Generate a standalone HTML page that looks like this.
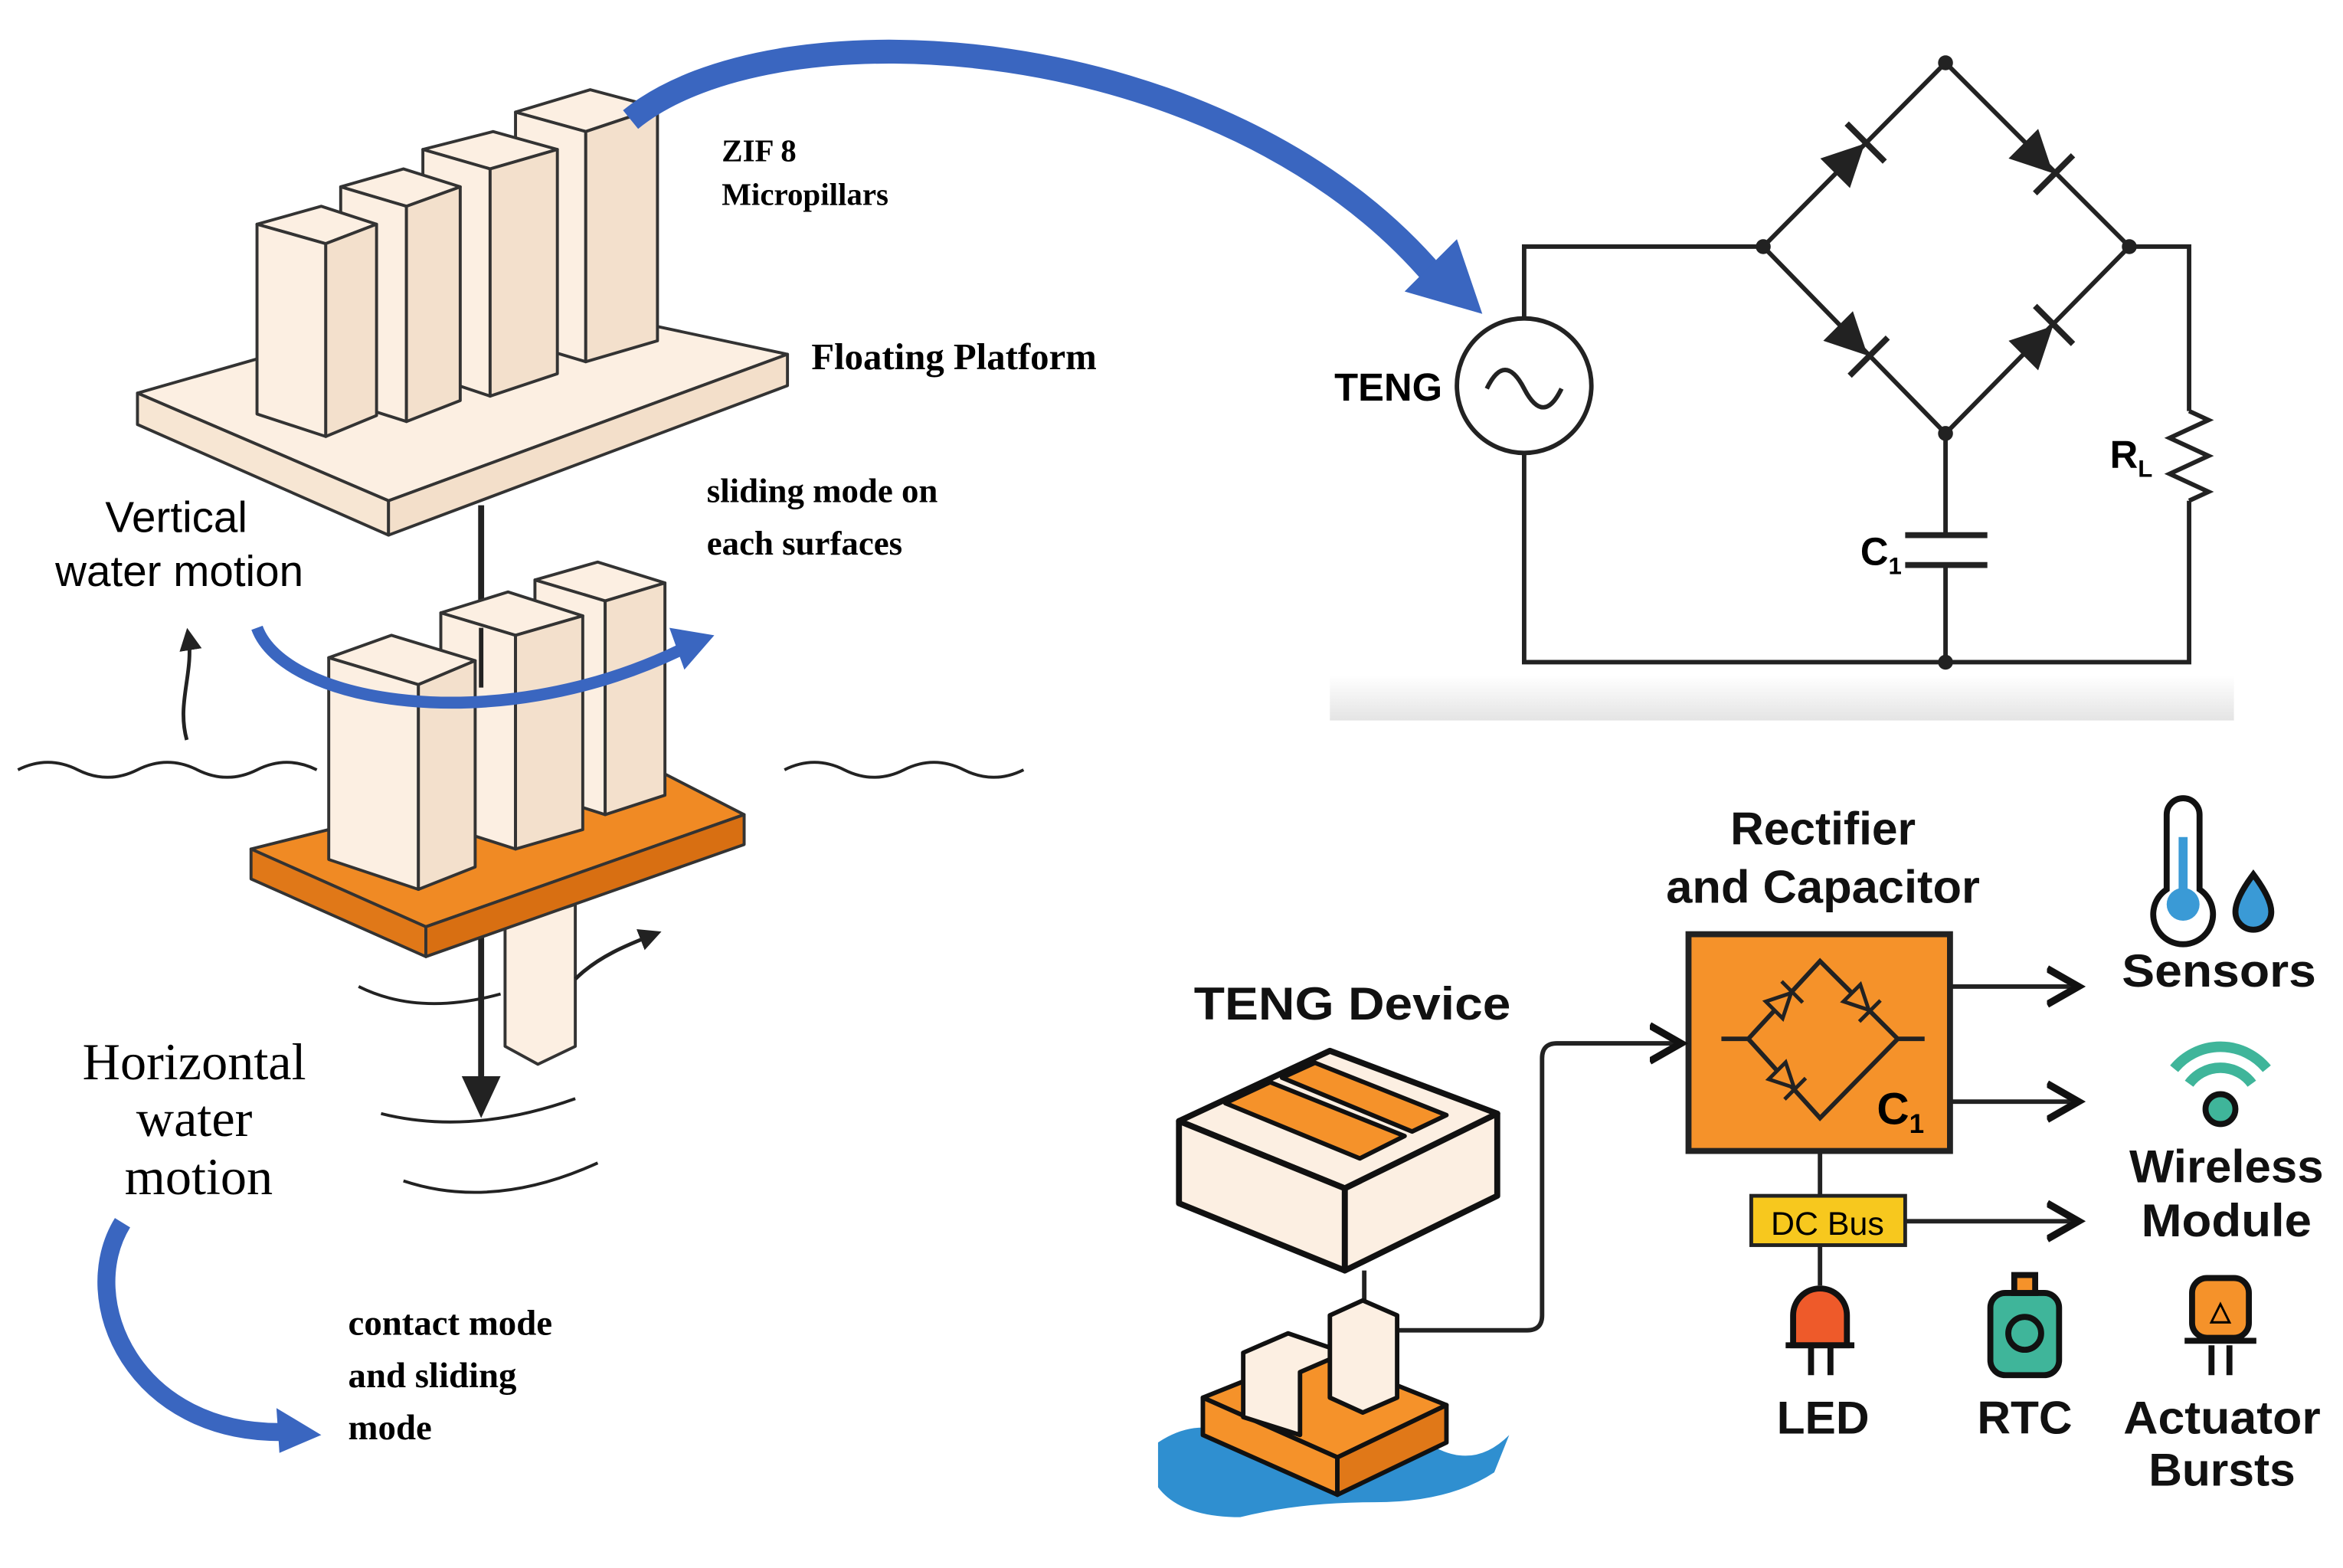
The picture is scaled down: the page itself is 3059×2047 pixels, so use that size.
<!DOCTYPE html>
<html><head><meta charset="utf-8"><style>
html,body{margin:0;padding:0;background:#fff}
svg{display:block}
.serif{font-family:"Liberation Serif",serif;font-weight:bold}
.sans{font-family:"Liberation Sans",sans-serif}
</style></head><body>
<svg width="3059" height="2047" viewBox="0 0 1568 1049" preserveAspectRatio="none" xmlns="http://www.w3.org/2000/svg">
<defs>
<linearGradient id="gr" x1="0" y1="0" x2="0" y2="1"><stop offset="0" stop-color="#fff"/><stop offset="1" stop-color="#e4e4e4"/></linearGradient>
<marker id="ah" markerWidth="10" markerHeight="10" refX="6" refY="5" orient="auto" markerUnits="strokeWidth"><path d="M0,1 L7,5 L0,9" fill="none" stroke="#111" stroke-width="1.6"/></marker>
<marker id="af" markerWidth="6" markerHeight="6" refX="4" refY="3" orient="auto"><path d="M0,0 L6,3 L0,6Z" fill="#222"/></marker>
</defs>
<rect width="1568" height="1049" fill="#fff"/>

<g stroke="#333" stroke-width="2" stroke-linejoin="round">
<polygon points="92,263 330,195 527,237 260,335" fill="#fcefe2"/>
<polygon points="92,263 260,335 260,358 92,284" fill="#f7e6d3"/>
<polygon points="260,335 527,237 527,258 260,358" fill="#f3dfca"/>
<g fill="#fcefe2">
<polygon points="345,75 395,60 440,72 392,88"/><polygon points="345,75 392,88 392,242 345,228"/><polygon points="392,88 440,72 440,228 392,242" fill="#f3e0cc"/>
<polygon points="283,100 330,88 373,100 328,113"/><polygon points="283,100 328,113 328,265 283,250"/><polygon points="328,113 373,100 373,250 328,265" fill="#f3e0cc"/>
<polygon points="228,125 270,113 308,125 272,138"/><polygon points="228,125 272,138 272,282 228,268"/><polygon points="272,138 308,125 308,268 272,282" fill="#f3e0cc"/>
<polygon points="172,150 215,138 252,150 218,163"/><polygon points="172,150 218,163 218,292 172,277"/><polygon points="218,163 252,150 252,278 218,292" fill="#f3e0cc"/>
</g>
</g>
<line x1="322" y1="338" x2="322" y2="722" stroke="#222" stroke-width="4"/>
<polygon points="309,720 335,720 322,748" fill="#222"/>

<g stroke="#333" stroke-width="2" stroke-linejoin="round">
<polygon points="338,620 385,605 385,700 360,712 338,700" fill="#fcefe2"/>
<polygon points="168,568 420,505 498,545 285,620" fill="#f08a24"/>
<polygon points="168,568 285,620 285,640 168,588" fill="#e07818"/>
<polygon points="285,620 498,545 498,565 285,640" fill="#d86f12"/>
<g fill="#fcefe2">
<polygon points="358,388 400,376 445,390 405,402"/><polygon points="358,388 405,402 405,545 358,530"/><polygon points="405,402 445,390 445,532 405,545" fill="#f3e0cc"/>
<polygon points="295,410 340,396 390,412 345,425"/><polygon points="295,410 345,425 345,568 295,552"/><polygon points="345,425 390,412 390,555 345,568" fill="#f3e0cc"/>
<polygon points="220,440 262,425 318,442 280,458"/><polygon points="220,440 280,458 280,595 220,575"/><polygon points="280,458 318,442 318,580 280,595" fill="#f3e0cc"/>
</g>
</g>
<line x1="322" y1="420" x2="322" y2="460" stroke="#222" stroke-width="3"/>

<path d="M422,80 C520,0 820,20 960,185" fill="none" stroke="#3a66c0" stroke-width="16"/>
<polygon points="940,195 992,210 975,160" fill="#3a66c0"/>
<path d="M172,420 C190,470 330,495 455,435" fill="none" stroke="#3a66c0" stroke-width="8"/>
<polygon points="448,420 478,425 458,448" fill="#3a66c0"/>
<path d="M82,818 C50,870 90,960 190,958" fill="none" stroke="#3a66c0" stroke-width="12"/>
<polygon points="185,942 215,960 187,972" fill="#3a66c0"/>

<path d="M125,495 C118,470 130,450 126,425" fill="none" stroke="#222" stroke-width="2.5" marker-end="url(#af)"/>
<path d="M385,655 C400,640 420,632 438,625" fill="none" stroke="#222" stroke-width="2.5" marker-end="url(#af)"/>
<path d="M12,515 q20,-10 40,0 t40,0 t40,0 t40,0 t40,0" fill="none" stroke="#222" stroke-width="2"/>
<path d="M525,515 q20,-10 40,0 t40,0 t40,0 t40,0" fill="none" stroke="#222" stroke-width="2"/>
<path d="M240,660 q40,20 95,5" fill="none" stroke="#222" stroke-width="2"/>
<path d="M255,745 q60,15 130,-10" fill="none" stroke="#222" stroke-width="2"/>
<path d="M270,790 q60,20 130,-12" fill="none" stroke="#222" stroke-width="2"/>

<text class="serif" x="483" y="108" font-size="21">ZIF 8</text>
<text class="serif" x="483" y="137" font-size="21">Micropillars</text>
<text class="serif" x="543" y="247" font-size="25">Floating Platform</text>
<text class="serif" x="473" y="336" font-size="23">sliding mode on</text>
<text class="serif" x="473" y="371" font-size="23">each surfaces</text>
<text class="sans" x="118" y="356" font-size="29" text-anchor="middle">Vertical</text>
<text class="sans" x="120" y="392" font-size="29" text-anchor="middle">water motion</text>
<text font-family="Liberation Serif,serif" x="130" y="722" font-size="35" text-anchor="middle">Horizontal</text>
<text font-family="Liberation Serif,serif" x="130" y="760" font-size="35" text-anchor="middle">water</text>
<text font-family="Liberation Serif,serif" x="133" y="799" font-size="35" text-anchor="middle">motion</text>
<text class="serif" x="233" y="893" font-size="24">contact mode</text>
<text class="serif" x="233" y="928" font-size="24">and sliding</text>
<text class="serif" x="233" y="963" font-size="24">mode</text>

<rect x="890" y="452" width="605" height="30" fill="url(#gr)"/>
<g fill="none" stroke="#222" stroke-width="3">
<polyline points="1020,213 1020,165 1180,165"/>
<polyline points="1020,303 1020,443 1465,443 1465,335"/>
<polyline points="1425,165 1465,165 1465,275"/>
<polyline points="1465,275 1478,281 1452,293 1478,305 1452,317 1478,329 1465,335"/>
<polygon points="1302,42 1180,165 1302,290 1425,165"/>
<line x1="1302" y1="290" x2="1302" y2="358"/>
<line x1="1302" y1="378" x2="1302" y2="443"/>
<line x1="1275" y1="358" x2="1330" y2="358" stroke-width="4"/>
<line x1="1275" y1="378" x2="1330" y2="378" stroke-width="4"/>
<circle cx="1020" cy="258" r="45" stroke-width="3"/>
<path d="M995,260 q12,-25 25,0 t25,0" stroke-width="3"/>
</g>
<g fill="#222">
<circle cx="1302" cy="42" r="5"/><circle cx="1180" cy="165" r="5"/><circle cx="1425" cy="165" r="5"/><circle cx="1302" cy="290" r="5"/><circle cx="1302" cy="443" r="5"/>
<g transform="translate(1238,106) rotate(-45)"><polygon points="-14,-14 -14,14 14,0"/><rect x="13" y="-18" width="4" height="36"/></g>
<g transform="translate(1364,106) rotate(45)"><polygon points="-14,-14 -14,14 14,0"/><rect x="13" y="-18" width="4" height="36"/></g>
<g transform="translate(1240,228) rotate(45)"><polygon points="-14,-14 -14,14 14,0"/><rect x="13" y="-18" width="4" height="36"/></g>
<g transform="translate(1364,228) rotate(-45)"><polygon points="-14,-14 -14,14 14,0"/><rect x="13" y="-18" width="4" height="36"/></g>
</g>
<text class="sans" x="893" y="268" font-size="26" font-weight="bold">TENG</text>
<text class="sans" x="1412" y="313" font-size="26" font-weight="bold">R<tspan font-size="16" dy="6">L</tspan></text>
<text class="sans" x="1245" y="378" font-size="26" font-weight="bold">C<tspan font-size="16" dy="6">1</tspan></text>

<g class="sans" font-weight="bold" fill="#111">
<text x="1220" y="565" font-size="31" text-anchor="middle">Rectifier</text>
<text x="1220" y="604" font-size="31" text-anchor="middle" textLength="210" lengthAdjust="spacingAndGlyphs">and Capacitor</text>
<text x="905" y="682" font-size="31" text-anchor="middle" textLength="212" lengthAdjust="spacingAndGlyphs">TENG Device</text>
<text x="1485" y="660" font-size="31" text-anchor="middle" textLength="130" lengthAdjust="spacingAndGlyphs">Sensors</text>
<text x="1490" y="791" font-size="31" text-anchor="middle" textLength="130" lengthAdjust="spacingAndGlyphs">Wireless</text>
<text x="1490" y="827" font-size="31" text-anchor="middle" textLength="114" lengthAdjust="spacingAndGlyphs">Module</text>
<text x="1220" y="959" font-size="31" text-anchor="middle">LED</text>
<text x="1355" y="959" font-size="31" text-anchor="middle">RTC</text>
<text x="1487" y="959" font-size="31" text-anchor="middle" textLength="132" lengthAdjust="spacingAndGlyphs">Actuator</text>
<text x="1487" y="994" font-size="31" text-anchor="middle">Bursts</text>
</g>
<rect x="1130" y="625" width="175" height="145" fill="#f5922a" stroke="#222" stroke-width="4"/>
<g fill="none" stroke="#222" stroke-width="3">
<polygon points="1218,643 1170,695 1218,748 1270,695"/>
<line x1="1152" y1="695" x2="1170" y2="695"/><line x1="1270" y1="695" x2="1288" y2="695"/>
<line x1="1218" y1="770" x2="1218" y2="800"/>
<line x1="1218" y1="833" x2="1218" y2="860"/>
<line x1="1305" y1="660" x2="1388" y2="660" marker-end="url(#ah)"/>
<line x1="1305" y1="737" x2="1388" y2="737" marker-end="url(#ah)"/>
<line x1="1275" y1="817" x2="1388" y2="817" marker-end="url(#ah)"/>
<path d="M935,890 L1022,890 Q1032,890 1032,880 L1032,708 Q1032,698 1042,698 L1122,698" marker-end="url(#ah)"/>
<line x1="913" y1="850" x2="913" y2="870"/>
</g>
<g fill="#f5922a" stroke="#222" stroke-width="2.5">
<g transform="translate(1193,670) rotate(-45)"><polygon points="-8,-8 -8,8 8,0"/><line x1="9" y1="-10" x2="9" y2="10"/></g>
<g transform="translate(1245,670) rotate(45)"><polygon points="-8,-8 -8,8 8,0"/><line x1="9" y1="-10" x2="9" y2="10"/></g>
<g transform="translate(1195,722) rotate(45)"><polygon points="-8,-8 -8,8 8,0"/><line x1="9" y1="-10" x2="9" y2="10"/></g>
</g>
<text class="sans" x="1256" y="752" font-size="30" font-weight="bold">C<tspan font-size="18" dy="6">1</tspan></text>
<rect x="1172" y="800" width="103" height="33" fill="#f7c81e" stroke="#222" stroke-width="2.5"/>
<text class="sans" x="1223" y="826" font-size="22" text-anchor="middle">DC Bus</text>

<g stroke="#111" stroke-width="4" stroke-linejoin="round">
<polygon points="789,750 890,703 1002,745 900,795" fill="#fcefe2"/>
<polygon points="789,750 900,795 900,850 789,805" fill="#fcefe2"/>
<polygon points="900,795 1002,745 1002,800 900,850" fill="#fcefe2"/>
<polygon points="820,738 850,724 940,760 910,775" fill="#f5922a" stroke-width="3"/>
<polygon points="858,721 880,711 968,746 945,757" fill="#f5922a" stroke-width="3"/>
<path d="M775,965 q30,-20 60,0 t60,0 t60,0 t55,-5 l-10,25 q-30,20 -80,20 t-90,10 q-40,0 -55,-20z" fill="#2f8fd0" stroke="none"/>
<polygon points="805,935 880,905 968,940 895,975" fill="#f5922a" stroke-width="3"/>
<polygon points="805,935 895,975 895,1000 805,960" fill="#f5922a" stroke-width="3"/>
<polygon points="895,975 968,940 968,965 895,1000" fill="#e07818" stroke-width="3"/>
<polygon points="832,905 862,892 900,905 870,918 870,960 832,948" fill="#fcefe2" stroke-width="3"/>
<polygon points="890,880 912,870 935,880 935,935 912,945 890,935" fill="#fcefe2" stroke-width="3"/>
</g>

<g stroke="#111" stroke-width="4">
<path d="M1450,545 a11,11 0 0 1 22,0 v50 a20,20 0 1 1 -22,0z" fill="#fff"/>
<line x1="1461" y1="560" x2="1461" y2="605" stroke="#3a9ad6" stroke-width="6"/>
<circle cx="1461" cy="605" r="11" fill="#3a9ad6" stroke="none"/>
<path d="M1508,585 q-12,16 -12,25 a12,12 0 0 0 24,0 q0,-9 -12,-25z" fill="#3a9ad6"/>
<path d="M1455,715 a40,40 0 0 1 62,0" fill="none" stroke="#3fb59a" stroke-width="7"/>
<path d="M1465,725 a26,26 0 0 1 42,0" fill="none" stroke="#3fb59a" stroke-width="7"/>
<circle cx="1486" cy="742" r="10" fill="#3fb59a"/>
<path d="M1200,900 v-20 a18,18 0 0 1 36,0 v20z" fill="#ee5a2a"/>
<line x1="1195" y1="900" x2="1241" y2="900"/>
<line x1="1212" y1="900" x2="1212" y2="920"/><line x1="1225" y1="900" x2="1225" y2="920"/>
<rect x="1332" y="865" width="46" height="55" rx="10" fill="#3fb59a"/>
<rect x="1348" y="853" width="14" height="12" fill="#f5922a"/>
<circle cx="1355" cy="892" r="11" fill="none"/>
<rect x="1467" y="855" width="38" height="40" rx="10" fill="#f5922a"/>
<line x1="1462" y1="897" x2="1510" y2="897"/>
<line x1="1480" y1="900" x2="1480" y2="920"/><line x1="1492" y1="900" x2="1492" y2="920"/>
</g>
<text class="sans" x="1486" y="883" font-size="18" text-anchor="middle" font-weight="bold">△</text>
</svg>
</body></html>
